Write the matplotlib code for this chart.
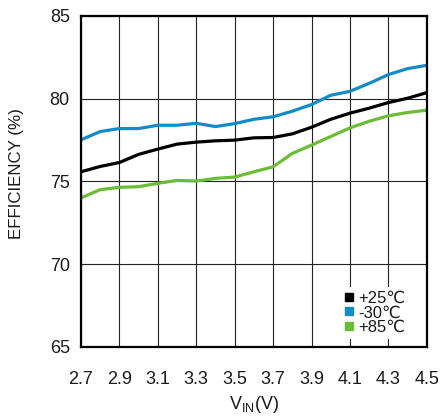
import matplotlib
matplotlib.use("Agg")
import matplotlib.pyplot as plt
from matplotlib.lines import Line2D

plt.rcParams['font.family'] = ['Liberation Sans', 'DejaVu Sans']
plt.rcParams['mathtext.fontset'] = 'custom'
plt.rcParams['mathtext.rm'] = 'Liberation Sans'

# data
vin = [2.7, 2.8, 2.9, 3.0, 3.1, 3.2, 3.3, 3.4, 3.5, 3.6,
       3.7, 3.8, 3.9, 4.0, 4.1, 4.2, 4.3, 4.4, 4.5]
eff_25 = [75.58, 75.90, 76.14, 76.63, 76.95, 77.25, 77.37, 77.45, 77.49, 77.63,
          77.65, 77.87, 78.27, 78.75, 79.12, 79.42, 79.76, 80.02, 80.36]
eff_m30 = [77.51, 78.01, 78.19, 78.19, 78.39, 78.39, 78.51, 78.31, 78.49, 78.75,
           78.90, 79.24, 79.64, 80.20, 80.44, 80.92, 81.45, 81.81, 82.01]
eff_85 = [74.00, 74.50, 74.64, 74.68, 74.88, 75.06, 75.02, 75.18, 75.26, 75.58,
          75.88, 76.69, 77.19, 77.71, 78.23, 78.63, 78.96, 79.16, 79.30]
labels = ['+25\u2103', '-30\u2103', '+85\u2103']
colors = ['#000000', '#128bc9', '#6abd35']
xticks = [2.7, 2.9, 3.1, 3.3, 3.5, 3.7, 3.9, 4.1, 4.3, 4.5]
yticks = [65, 70, 75, 80, 85]

txt = '#1a1a1a'

fig = plt.figure(figsize=(4.4, 4.16), dpi=100)
ax = fig.add_axes([0.184, 0.166, 0.786, 0.796])

for y, c in zip([eff_25, eff_m30, eff_85], colors):
    ax.plot(vin, y, color=c, lw=2.3, solid_joinstyle='round')

ax.set_xlim(2.7, 4.5)
ax.set_ylim(65, 85)
ax.set_xticks(xticks)
ax.set_xticklabels([f'{v:.1f}' for v in xticks])
ax.set_yticks(yticks)
ax.grid(True, color='#222222', lw=0.8)
ax.set_axisbelow(True)
ax.tick_params(length=0, labelsize=13, labelcolor=txt)
ax.tick_params(axis='x', pad=17)
ax.tick_params(axis='y', pad=8)
for s in ax.spines.values():
    s.set_linewidth(1.6)

ax.set_xlabel('V$_{\\mathrm{IN}}$(V)', fontsize=13, labelpad=5, color=txt)
ax.set_ylabel('EFFICIENCY (%)', fontsize=12.2, color=txt)
ax.yaxis.set_label_coords(-0.165, 0.523)

handles = [Line2D([], [], ls='none', marker='s', ms=6, color=c) for c in colors]
leg = ax.legend(handles, labels, loc='lower right', bbox_to_anchor=(0.975, 0.0),
                frameon=True, fancybox=False, edgecolor='none', framealpha=1,
                fontsize=12, handlelength=0.5, handletextpad=0.3,
                labelspacing=-0.05, borderpad=0.25, labelcolor=txt)

fig.savefig('out.png')
